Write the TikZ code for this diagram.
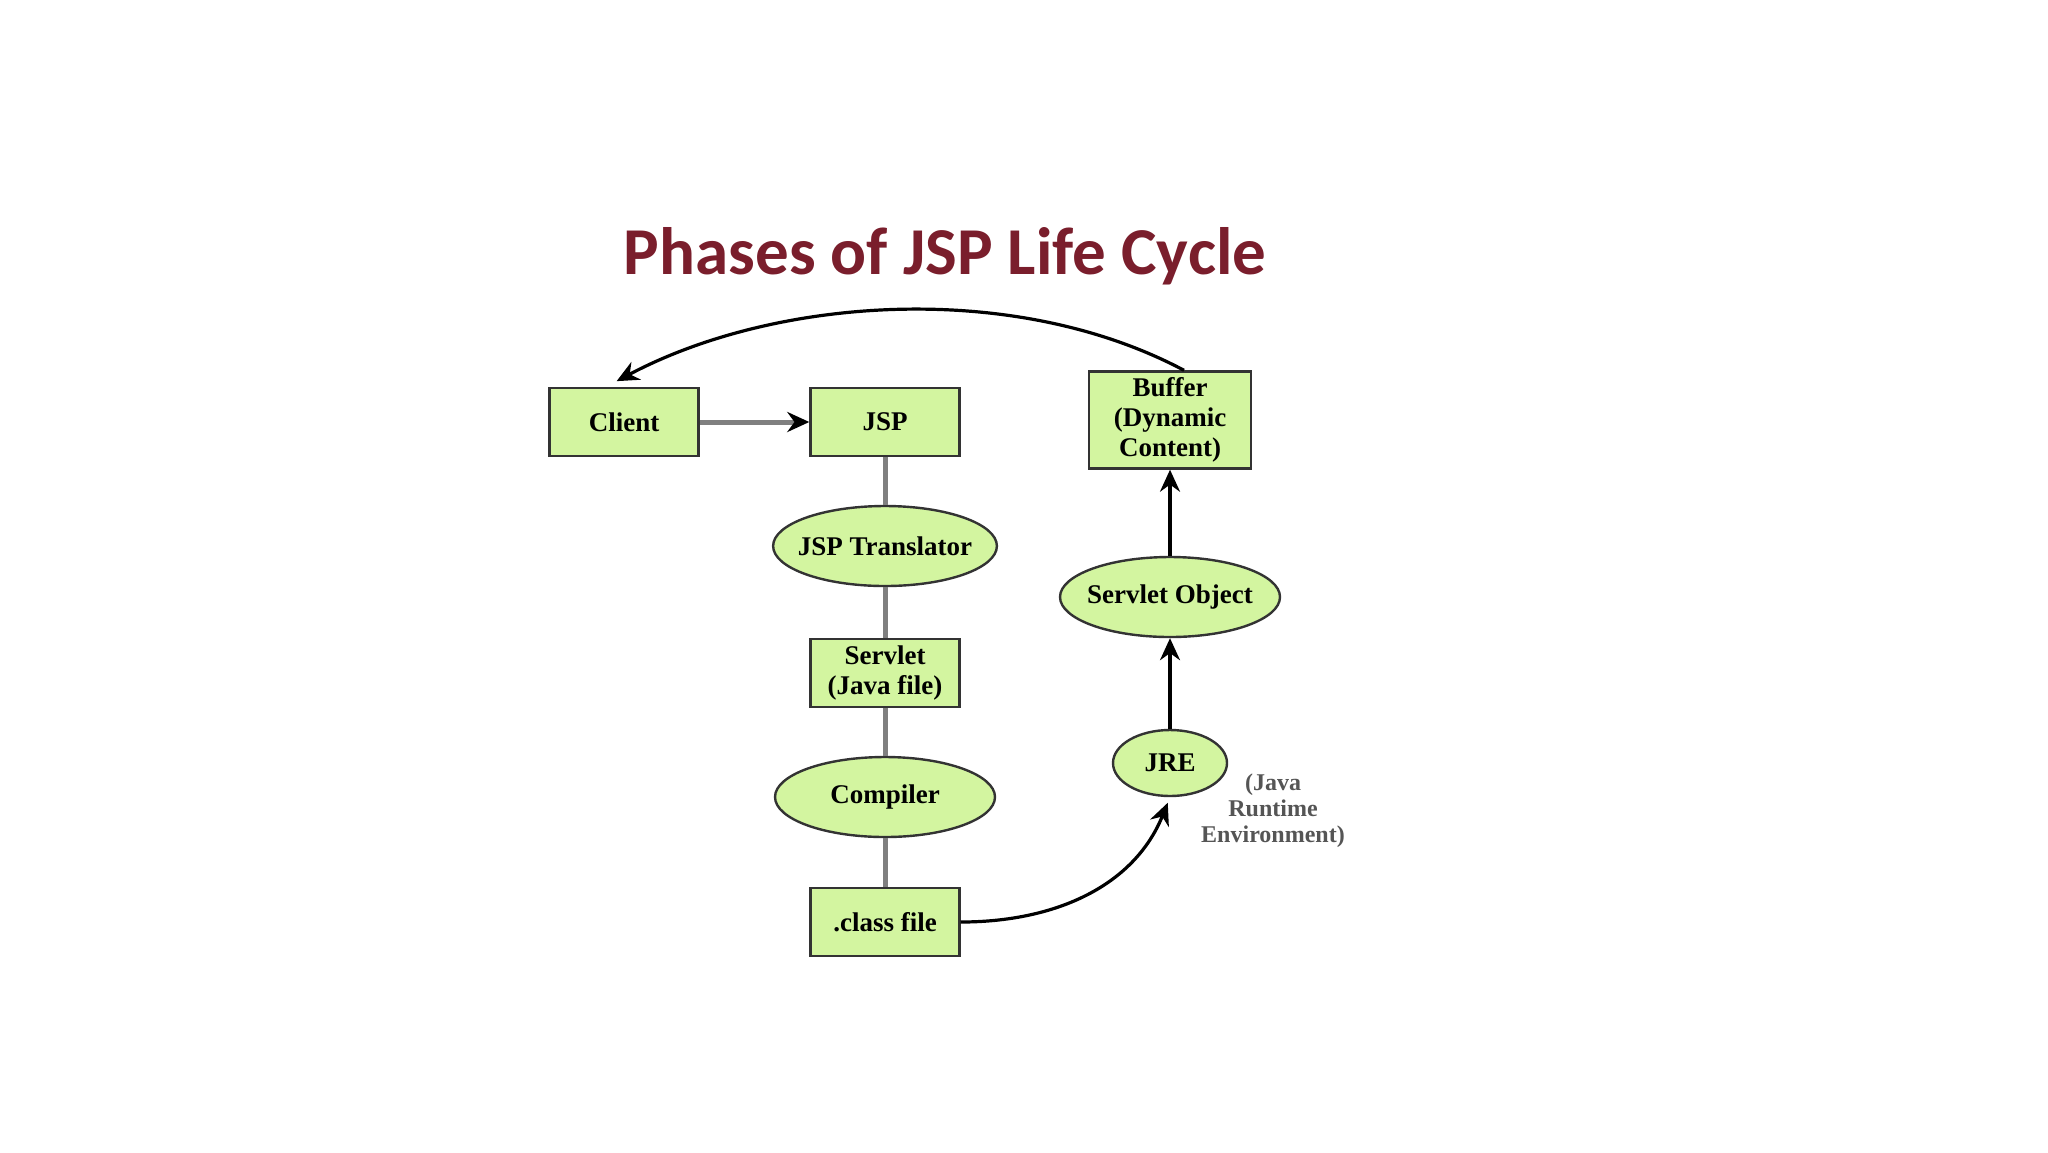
\documentclass[tikz,border=0pt]{standalone}
\usepackage{fontspec}
\setmainfont{Liberation Serif}
\newfontfamily\titlefont{Carlito}
\usetikzlibrary{arrows.meta,shapes.geometric}

\definecolor{phasegreen}{HTML}{D3F5A0}
\definecolor{titlered}{HTML}{7A1E2C}
\definecolor{linkgray}{HTML}{808080}
\definecolor{notegray}{HTML}{555555}

\tikzset{every picture/.style={line width=0.75pt}}
\tikzset{
  phasebox/.style={draw=black!80, fill=phasegreen, line width=1.2pt, minimum width=74.5pt, minimum height=34pt, inner sep=1pt, align=center, font=\bfseries\fontsize{13.5}{15}\selectfont},
  phaseoval/.style={ellipse, draw=black!80, fill=phasegreen, line width=1.2pt, minimum width=110pt, minimum height=40pt, inner xsep=-4pt, inner ysep=0pt, align=center, font=\bfseries\fontsize{13.5}{15}\selectfont},
  linkline/.style={draw=linkgray, line width=2.5pt},
  linkarrow/.style={draw=black, line width=1.6pt, -{Stealth[length=11pt,width=10pt]}}
}

\begin{document}
\begin{tikzpicture}[x=0.5pt,y=0.5pt,yscale=-1,xscale=1]
\useasboundingbox (0,0) rectangle (2048,1152);

% Title
\node (title) at (945,256) [text=titlered, font=\titlefont\bfseries\fontsize{33.5}{38}\selectfont] {Phases of JSP Life Cycle};

%Shape: Rectangle
\node (client) at (624,422) [phasebox] {Client};
\node (jsp) at (885,422) [phasebox] {JSP};
\node (buffer) at (1170,420) [phasebox, minimum width=81pt, minimum height=48.5pt] {Buffer\\(Dynamic\\Content)};
\node (servlet) at (885,673) [phasebox] {Servlet\\(Java file)};
\node (classfile) at (885,922) [phasebox] {.class file};

%Shape: Ellipse
\node (translator) at (885,546) [phaseoval] {JSP Translator};
\node (compiler) at (885,797) [phaseoval] {Compiler};
\node (servobj) at (1170,597) [phaseoval] {Servlet Object};
\node (jre) at (1170,763) [phaseoval, minimum width=57pt, minimum height=33pt] {JRE};

% Text Node
\node (jrenote) at (1273,811) [text=notegray, align=center, font=\bfseries\fontsize{12}{13}\selectfont] {(Java\\Runtime\\Environment)};

% Links
\draw [linkline, -{Stealth[length=11pt,width=10pt,color=black]}] (client) -- (jsp);
\draw [linkline] (jsp) -- (translator);
\draw [linkline] (translator) -- (servlet);
\draw [linkline] (servlet) -- (compiler);
\draw [linkline] (compiler) -- (classfile);
\draw [linkarrow, shorten >=3pt] (classfile.east) to [out=0,in=112] (jre.south);
\draw [linkarrow] (jre) -- (servobj);
\draw [linkarrow] (servobj) -- (buffer);
\draw [linkarrow, shorten >=6pt, looseness=0.85] ([xshift=7pt]buffer.north) to [out=-152,in=-28] ([xshift=-9pt]client.north);

\end{tikzpicture}
\end{document}
